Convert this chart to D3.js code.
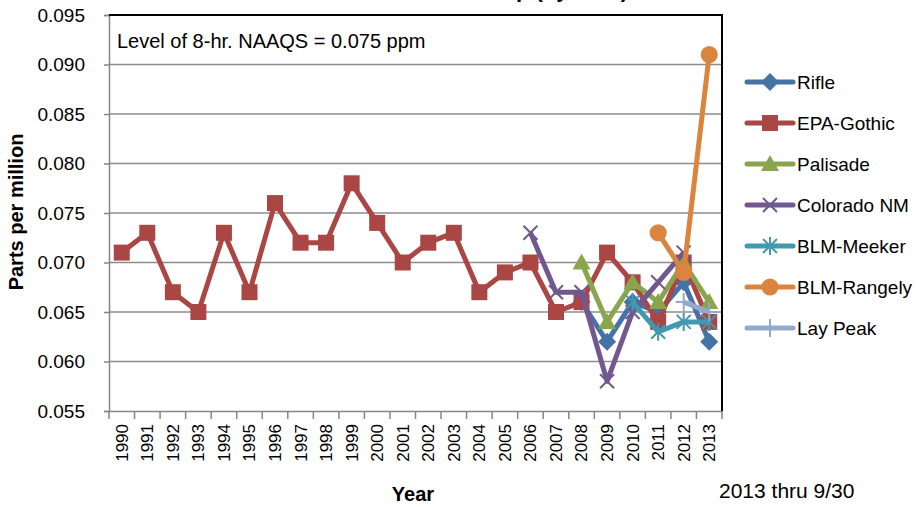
<!DOCTYPE html>
<html>
<head>
<meta charset="utf-8">
<script src="https://cdn.jsdelivr.net/npm/d3@7"></script>
<style>
  body { margin: 0; background: #fff; }
  text { font-family: "Liberation Sans", Arial, sans-serif; }
</style>
</head>
<body>
<div id="chart"></div>
<script>
/* DATA */
const years = ["1990","1991","1992","1993","1994","1995","1996","1997","1998","1999","2000","2001",
  "2002","2003","2004","2005","2006","2007","2008","2009","2010","2011","2012","2013"];

const rifle      = [null,null,null,null,null,null,null,null,null,null,null,null,null,null,null,null,null,null,0.066,0.062,0.066,0.065,0.068,0.062];
const epaGothic  = [0.071,0.073,0.067,0.065,0.073,0.067,0.076,0.072,0.072,0.078,0.074,0.070,0.072,0.073,0.067,0.069,0.070,0.065,0.066,0.071,0.068,0.064,0.070,0.064];
const palisade   = [null,null,null,null,null,null,null,null,null,null,null,null,null,null,null,null,null,null,0.070,0.064,0.068,0.066,0.070,0.066];
const coloradoNM = [null,null,null,null,null,null,null,null,null,null,null,null,null,null,null,null,0.073,0.067,0.067,0.058,0.065,0.068,0.071,null];
const blmMeeker  = [null,null,null,null,null,null,null,null,null,null,null,null,null,null,null,null,null,null,null,null,0.066,0.063,0.064,0.064];
const blmRangely = [null,null,null,null,null,null,null,null,null,null,null,null,null,null,null,null,null,null,null,null,null,0.073,0.069,0.091];
const layPeak    = [null,null,null,null,null,null,null,null,null,null,null,null,null,null,null,null,null,null,null,null,null,null,0.066,0.065];

const seriesNames = ["Rifle","EPA-Gothic","Palisade","Colorado NM","BLM-Meeker","BLM-Rangely","Lay Peak"];
const seriesValues = [rifle, epaGothic, palisade, coloradoNM, blmMeeker, blmRangely, layPeak];
const seriesColors = ["#4572A7","#AA4643","#89A54E","#71588F","#4198AF","#DB843D","#93A9CF"];
const seriesMarkers = ["diamond","square","triangle","x","star","circle","plus"];

const yTicks = [0.055,0.060,0.065,0.070,0.075,0.080,0.085,0.090,0.095];

/* LAYOUT */
const width = 917, height = 507;
const plot = { left: 109, right: 722, top: 15, bottom: 411 };

const svg = d3.select("#chart").append("svg")
  .attr("width", width)
  .attr("height", height);

// scales
const xScale = d3.scaleBand().domain(years).range([plot.left, plot.right]);
const xc = d => xScale(d) + xScale.bandwidth() / 2;
const yScale = d3.scaleLinear().domain([0.055, 0.095]).range([plot.bottom, plot.top]);

// title (cut off at the top in the original)
svg.append("text")
  .attr("x", 628).attr("y", -3)
  .attr("text-anchor", "end")
  .attr("font-weight", "bold")
  .attr("font-size", 22)
  .text("Ozone 4th Max Values at Each Monitor Group (by Year)");

// gridlines
svg.append("g")
  .selectAll("line")
  .data(yTicks.slice(1, -1))
  .join("line")
  .attr("x1", plot.left).attr("x2", plot.right)
  .attr("y1", d => yScale(d)).attr("y2", d => yScale(d))
  .attr("stroke", "#8c8c8c")
  .attr("stroke-width", 1.5);

// y axis
const yAxis = d3.axisLeft(yScale)
  .tickValues(yTicks)
  .tickSize(5)
  .tickFormat(d3.format(".3f"));
const yAxisGroup = svg.append("g")
  .attr("transform", `translate(${plot.left},0)`)
  .call(yAxis);
yAxisGroup.select(".domain").attr("stroke", "#868686").attr("stroke-width", 1.5);
yAxisGroup.selectAll(".tick line").attr("stroke", "#868686").attr("stroke-width", 1.5);
yAxisGroup.selectAll(".tick text")
  .attr("x", -24)
  .attr("font-size", 19)
  .attr("font-family", "Liberation Sans, Arial, sans-serif")
  .attr("fill", "#000");

// x axis: ticks between categories
const xAxis = d3.axisBottom(xScale).tickSize(0).tickSizeOuter(0);
const xAxisGroup = svg.append("g")
  .attr("transform", `translate(0,${plot.bottom})`)
  .call(xAxis);
xAxisGroup.select(".domain").attr("stroke", "#868686").attr("stroke-width", 1.5);
xAxisGroup.selectAll(".tick text")
  .attr("transform", "rotate(-90)")
  .attr("text-anchor", "end")
  .attr("x", -13)
  .attr("y", 0)
  .attr("dy", "0.35em")
  .attr("font-size", 17)
  .attr("font-family", "Liberation Sans, Arial, sans-serif")
  .attr("fill", "#000");
xAxisGroup.append("g")
  .selectAll("line")
  .data(years.concat(["end"]))
  .join("line")
  .attr("x1", (d, i) => plot.left + i * xScale.bandwidth())
  .attr("x2", (d, i) => plot.left + i * xScale.bandwidth())
  .attr("y1", 0).attr("y2", 8)
  .attr("stroke", "#868686")
  .attr("stroke-width", 1.5);

// plot border top and right
svg.append("path")
  .attr("d", `M${plot.left},${plot.top}H${plot.right}V${plot.bottom}`)
  .attr("fill", "none")
  .attr("stroke", "#000")
  .attr("stroke-width", 2);

// marker path builder
function markerPath(type) {
  switch (type) {
    case "diamond": return "M0,-9L9,0L0,9L-9,0Z";
    case "square": return "M-8,-8H8V8H-8Z";
    case "triangle": return "M0,-9L9,7H-9Z";
    case "circle": return d3.symbol(d3.symbolCircle, 230)();
    case "x": return "M-7,-7L7,7M-7,7L7,-7";
    case "star": return "M-7,-7L7,7M-7,7L7,-7M0,-9V9";
    case "plus": return "M-8,0H8M0,-9V9";
  }
}
const strokeMarkers = ["x","star","plus"];

// series
const line = d3.line()
  .defined(d => d.v !== null)
  .x(d => xc(d.year))
  .y(d => yScale(d.v));

seriesNames.forEach((name, i) => {
  const pts = years.map((y, j) => ({ year: y, v: seriesValues[i][j] }));
  const g = svg.append("g");
  g.append("path")
    .datum(pts)
    .attr("d", line)
    .attr("fill", "none")
    .attr("stroke", seriesColors[i])
    .attr("stroke-width", 5)
    .attr("stroke-linejoin", "round");
  const isStroke = strokeMarkers.includes(seriesMarkers[i]);
  g.selectAll("path.mk")
    .data(pts.filter(d => d.v !== null))
    .join("path")
    .attr("class", "mk")
    .attr("transform", d => `translate(${xc(d.year)},${yScale(d.v)})`)
    .attr("d", markerPath(seriesMarkers[i]))
    .attr("fill", isStroke ? "none" : seriesColors[i])
    .attr("stroke", seriesColors[i])
    .attr("stroke-width", isStroke ? 2 : 0);
});

// annotation
svg.append("text")
  .attr("x", 117).attr("y", 48)
  .attr("font-size", 20)
  .text("Level of 8-hr. NAAQS = 0.075 ppm");

// legend
const legend = svg.append("g");
seriesNames.forEach((name, i) => {
  const ly = 82 + i * 41;
  const isStroke = strokeMarkers.includes(seriesMarkers[i]);
  legend.append("line")
    .attr("x1", 747).attr("x2", 793)
    .attr("y1", ly).attr("y2", ly)
    .attr("stroke", seriesColors[i])
    .attr("stroke-width", 5)
    .attr("stroke-linecap", "round");
  legend.append("path")
    .attr("transform", `translate(770,${ly})`)
    .attr("d", markerPath(seriesMarkers[i]))
    .attr("fill", isStroke ? "none" : seriesColors[i])
    .attr("stroke", seriesColors[i])
    .attr("stroke-width", isStroke ? 2 : 0);
  legend.append("text")
    .attr("x", 797).attr("y", ly)
    .attr("dy", "0.35em")
    .attr("font-size", 19)
    .text(name);
});

// axis titles
svg.append("text")
  .attr("transform", "translate(23,212) rotate(-90)")
  .attr("text-anchor", "middle")
  .attr("font-weight", "bold")
  .attr("font-size", 20)
  .text("Parts per million");

svg.append("text")
  .attr("x", 413).attr("y", 501)
  .attr("text-anchor", "middle")
  .attr("font-weight", "bold")
  .attr("font-size", 20)
  .text("Year");

svg.append("text")
  .attr("x", 719).attr("y", 498)
  .attr("font-size", 21)
  .text("2013 thru 9/30");
</script>
</body>
</html>
